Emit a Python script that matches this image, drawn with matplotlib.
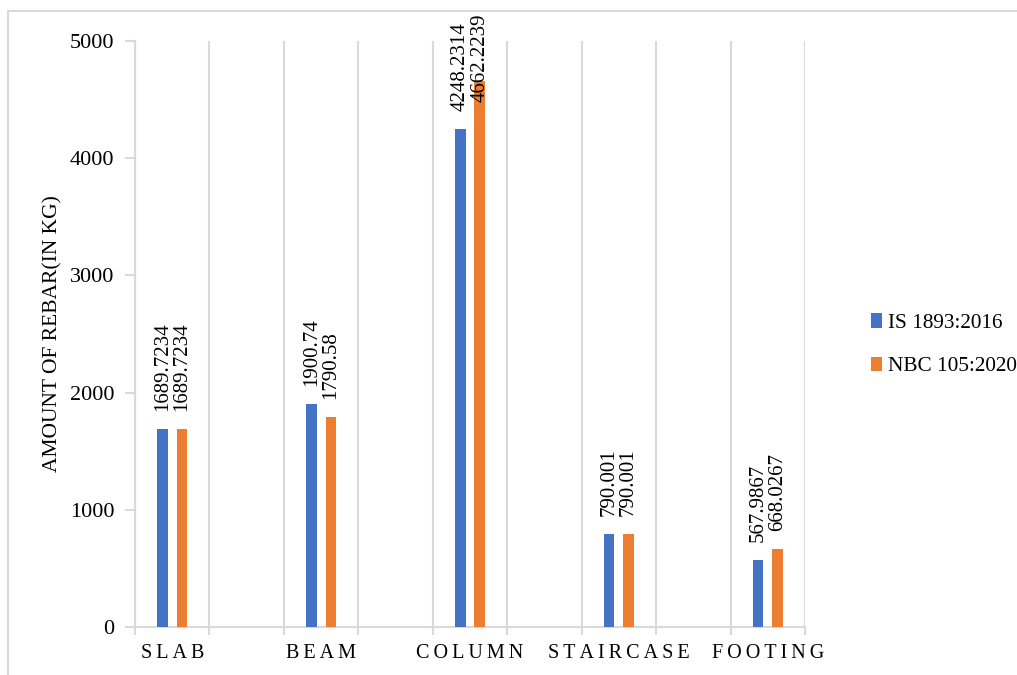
import numpy as np
import matplotlib
matplotlib.use("Agg")
import matplotlib.pyplot as plt
from matplotlib.patches import Rectangle

# Amount of rebar per structural member, two code versions
categories = ["SLAB", "BEAM", "COLUMN", "STAIRCASE", "FOOTING"]
is_1893 = [1689.7234, 1900.74, 4248.2314, 790.001, 567.9867]
nbc_105 = [1689.7234, 1790.58, 4662.2239, 790.001, 668.0267]
series_names = ["IS 1893:2016", "NBC 105:2020"]
yticks = [0, 1000, 2000, 3000, 4000, 5000]

blue = "#4472C4"
orange = "#ED7D31"
grid_col = "#D9D9D9"

plt.rcParams['font.family'] = ['Liberation Serif', 'DejaVu Serif']
plt.rcParams['font.size'] = 15

fig = plt.figure(figsize=(10.17, 6.75), dpi=100)
ax = fig.add_axes([135/1017, 48/675, 670/1017, 586/675])

# each member sits in every other slot, empty slots in between
slots = np.arange(len(categories)) * 2
w = 0.14
off = 0.13
b1 = ax.bar(slots - off, is_1893, w, color=blue, label=series_names[0], zorder=3)
b2 = ax.bar(slots + off, nbc_105, w, color=orange, label=series_names[1], zorder=3)

ax.set_xlim(-0.5, slots[-1] + 0.5)
ax.set_ylim(0, 5000)
ax.set_yticks(yticks)
ax.set_yticklabels([str(v) for v in yticks], fontsize=16)

ax.set_xticks(slots)
ax.set_xticklabels(['\u2009'.join(c) for c in categories], fontsize=14.5)
ax.set_xticks(np.arange(-0.5, slots[-1] + 1, 1), minor=True)
ax.tick_params(axis='x', which='major', length=0, pad=12)
ax.tick_params(axis='x', which='minor', length=6, color=grid_col, width=1.5)
ax.tick_params(axis='y', length=7, color=grid_col, width=1.5, pad=8)
ax.grid(axis='x', which='minor', color=grid_col, linewidth=1.5, zorder=0)

for s in ['top', 'right']:
    ax.spines[s].set_visible(False)
for s in ['left', 'bottom']:
    ax.spines[s].set_color(grid_col)
    ax.spines[s].set_linewidth(1.5)

ax.set_ylabel("AMOUNT OF REBAR(IN KG)", fontsize=15.5, labelpad=5)

gap = 13
labels = []
for bars in (b1, b2):
    for r in bars:
        v = r.get_height()
        t = ax.annotate(str(v), (r.get_x() + r.get_width() / 2, v),
                        xytext=(0, gap), textcoords='offset points',
                        rotation=90, ha='center', va='bottom', fontsize=15,
                        annotation_clip=False)
        labels.append(t)

# push labels down so they stay inside the chart frame
fig.canvas.draw()
rend = fig.canvas.get_renderer()
top_limit = 675 - 14
for t in labels:
    bb = t.get_window_extent(rend)
    if bb.y1 > top_limit:
        shift = (bb.y1 - top_limit) * 72 / fig.dpi
        t.xyann = (0, gap - shift)

fig.legend(handles=[b1, b2], loc='center left', bbox_to_anchor=(852/1017, 0.489),
           frameon=False, handlelength=0.5, handleheight=0.7, handletextpad=0.3,
           labelspacing=1.1, fontsize=15.3)

# outer chart border
fig.patches.append(Rectangle((8/1017, -0.1), 1.2, 0.1 + 664/675, transform=fig.transFigure,
                             fill=False, edgecolor=grid_col, linewidth=1.5))

fig.savefig("out.png", dpi=100, facecolor='white')
